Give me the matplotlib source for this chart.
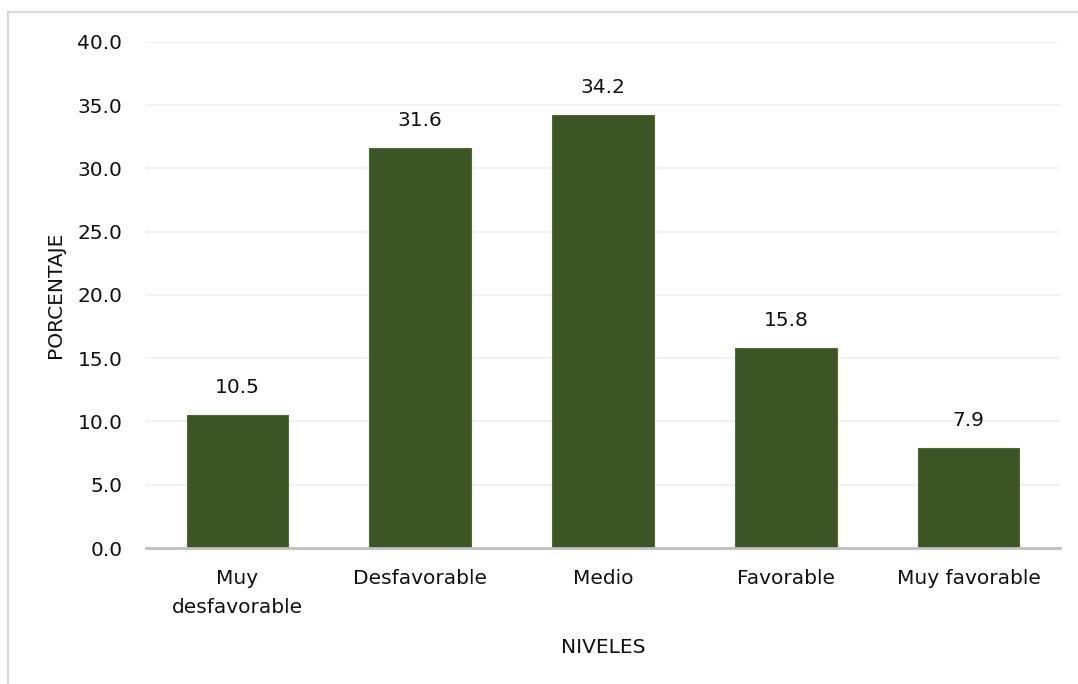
import matplotlib

matplotlib.use("Agg")
import matplotlib.pyplot as plt
from matplotlib.patches import Rectangle

# percentage of respondents per level
niveles = ["Muy\ndesfavorable", "Desfavorable", "Medio", "Favorable", "Muy favorable"]
porcentaje = [10.5, 31.6, 34.2, 15.8, 7.9]
y_ticks = [0, 5, 10, 15, 20, 25, 30, 35, 40]

bar_color = "#3b5624"
grid_color = "#efefef"
axis_color = "#c0c0c0"
text_color = "#111111"
fs = 14.5

plt.rcParams["font.family"] = ["DejaVu Sans"]
plt.rcParams["font.size"] = fs

fig = plt.figure(figsize=(10.78, 6.84), dpi=100)
ax = fig.add_axes([0.1354, 0.1988, 0.848, 0.740])

x = range(len(niveles))
bars = ax.bar(x, porcentaje, width=0.555, color=bar_color,
              edgecolor="#4d6b35", linewidth=0.8, zorder=3)

for rect, val in zip(bars, porcentaje):
    ax.annotate(f"{val:.1f}", (rect.get_x() + rect.get_width() / 2, val),
                xytext=(0, 13), textcoords="offset points",
                ha="center", va="bottom", fontsize=fs, color=text_color)

ax.set_xlim(-0.5, len(niveles) - 0.5)
ax.set_ylim(0, 40)
ax.set_yticks(y_ticks)
ax.set_yticklabels([f"{t:.1f}" for t in y_ticks])
ax.set_xticks(list(x))
ax.set_xticklabels(niveles, linespacing=1.7)

ax.grid(axis="y", color=grid_color, linewidth=1.2, zorder=0)
ax.tick_params(axis="both", length=0, labelsize=fs, labelcolor=text_color)
ax.tick_params(axis="x", pad=15)
ax.tick_params(axis="y", pad=17)
for side in ("top", "right", "left"):
    ax.spines[side].set_visible(False)
ax.spines["bottom"].set_color(axis_color)
ax.spines["bottom"].set_linewidth(2)
ax.spines["bottom"].set_zorder(4)

ax.set_ylabel("PORCENTAJE", fontsize=fs, color=text_color, labelpad=9)
ax.set_xlabel("NIVELES", fontsize=fs, color=text_color, labelpad=15)

# chart-area border; only its top and left edges fall inside the image
fig.patches.append(Rectangle((8 / 1078, -0.1), 1.2, 1 - 12 / 684 + 0.1,
                             transform=fig.transFigure, fill=False,
                             edgecolor="#d9d9d9", linewidth=1.5))

fig.savefig("out.png", dpi=100)
